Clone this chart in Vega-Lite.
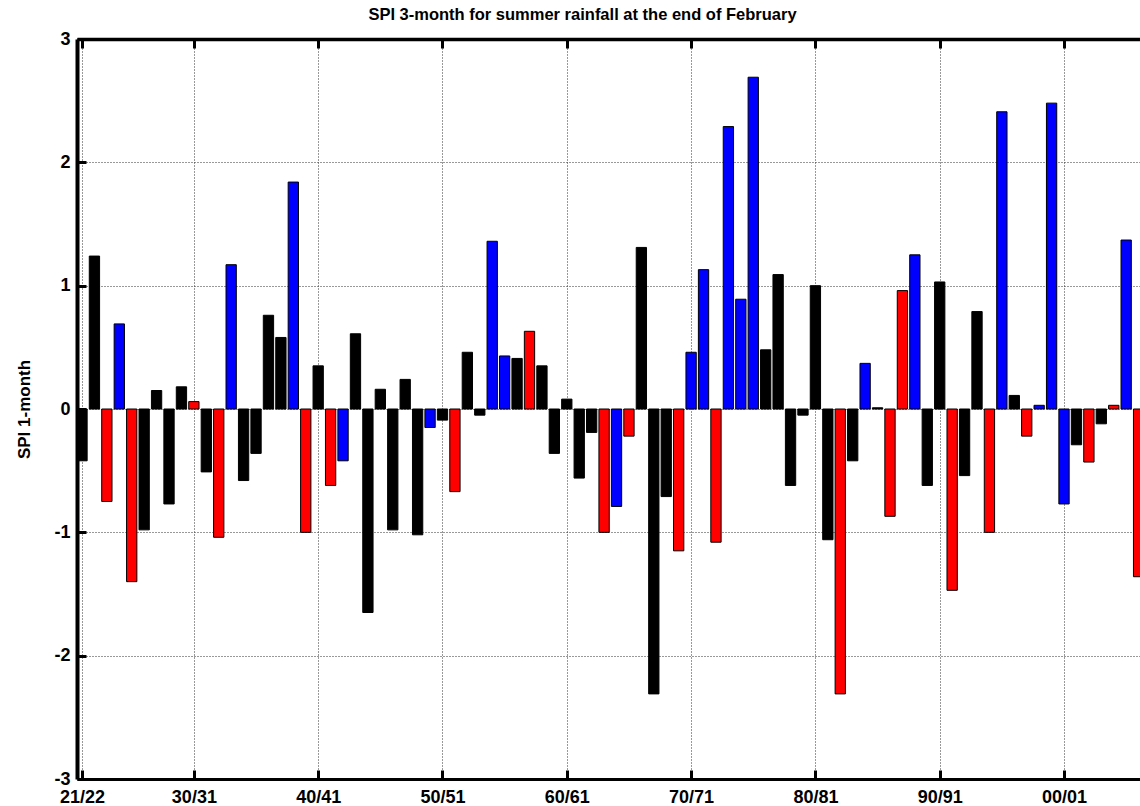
{
  "$schema": "https://vega.github.io/schema/vega-lite/v6.json",
  "width": 1063,
  "height": 740,
  "autosize": {"type": "none"},
  "padding": {"left": 77, "top": 39, "right": 0, "bottom": 27},
  "background": "white",
  "config": {"view": {"stroke": null}, "font": "Liberation Sans"},
  "title": {
    "text": "SPI 3-month for summer rainfall at the end of February",
    "font": "Liberation Sans",
    "fontSize": 16.5,
    "fontWeight": "bold",
    "color": "black",
    "anchor": "middle",
    "dx": -26,
    "offset": 7
  },
  "data": {
    "values": [
      {"year": 1921, "v": -0.42, "c": "k"},
      {"year": 1922, "v": 1.24, "c": "k"},
      {"year": 1923, "v": -0.75, "c": "r"},
      {"year": 1924, "v": 0.69, "c": "b"},
      {"year": 1925, "v": -1.40, "c": "r"},
      {"year": 1926, "v": -0.98, "c": "k"},
      {"year": 1927, "v": 0.15, "c": "k"},
      {"year": 1928, "v": -0.77, "c": "k"},
      {"year": 1929, "v": 0.18, "c": "k"},
      {"year": 1930, "v": 0.06, "c": "r"},
      {"year": 1931, "v": -0.51, "c": "k"},
      {"year": 1932, "v": -1.04, "c": "r"},
      {"year": 1933, "v": 1.17, "c": "b"},
      {"year": 1934, "v": -0.58, "c": "k"},
      {"year": 1935, "v": -0.36, "c": "k"},
      {"year": 1936, "v": 0.76, "c": "k"},
      {"year": 1937, "v": 0.58, "c": "k"},
      {"year": 1938, "v": 1.84, "c": "b"},
      {"year": 1939, "v": -1.00, "c": "r"},
      {"year": 1940, "v": 0.35, "c": "k"},
      {"year": 1941, "v": -0.62, "c": "r"},
      {"year": 1942, "v": -0.42, "c": "b"},
      {"year": 1943, "v": 0.61, "c": "k"},
      {"year": 1944, "v": -1.65, "c": "k"},
      {"year": 1945, "v": 0.16, "c": "k"},
      {"year": 1946, "v": -0.98, "c": "k"},
      {"year": 1947, "v": 0.24, "c": "k"},
      {"year": 1948, "v": -1.02, "c": "k"},
      {"year": 1949, "v": -0.15, "c": "b"},
      {"year": 1950, "v": -0.09, "c": "k"},
      {"year": 1951, "v": -0.67, "c": "r"},
      {"year": 1952, "v": 0.46, "c": "k"},
      {"year": 1953, "v": -0.05, "c": "k"},
      {"year": 1954, "v": 1.36, "c": "b"},
      {"year": 1955, "v": 0.43, "c": "b"},
      {"year": 1956, "v": 0.41, "c": "k"},
      {"year": 1957, "v": 0.63, "c": "r"},
      {"year": 1958, "v": 0.35, "c": "k"},
      {"year": 1959, "v": -0.36, "c": "k"},
      {"year": 1960, "v": 0.08, "c": "k"},
      {"year": 1961, "v": -0.56, "c": "k"},
      {"year": 1962, "v": -0.19, "c": "k"},
      {"year": 1963, "v": -1.00, "c": "r"},
      {"year": 1964, "v": -0.79, "c": "b"},
      {"year": 1965, "v": -0.22, "c": "r"},
      {"year": 1966, "v": 1.31, "c": "k"},
      {"year": 1967, "v": -2.31, "c": "k"},
      {"year": 1968, "v": -0.71, "c": "k"},
      {"year": 1969, "v": -1.15, "c": "r"},
      {"year": 1970, "v": 0.46, "c": "b"},
      {"year": 1971, "v": 1.13, "c": "b"},
      {"year": 1972, "v": -1.08, "c": "r"},
      {"year": 1973, "v": 2.29, "c": "b"},
      {"year": 1974, "v": 0.89, "c": "b"},
      {"year": 1975, "v": 2.69, "c": "b"},
      {"year": 1976, "v": 0.48, "c": "k"},
      {"year": 1977, "v": 1.09, "c": "k"},
      {"year": 1978, "v": -0.62, "c": "k"},
      {"year": 1979, "v": -0.05, "c": "k"},
      {"year": 1980, "v": 1.00, "c": "k"},
      {"year": 1981, "v": -1.06, "c": "k"},
      {"year": 1982, "v": -2.31, "c": "r"},
      {"year": 1983, "v": -0.42, "c": "k"},
      {"year": 1984, "v": 0.37, "c": "b"},
      {"year": 1985, "v": 0.01, "c": "k"},
      {"year": 1986, "v": -0.87, "c": "r"},
      {"year": 1987, "v": 0.96, "c": "r"},
      {"year": 1988, "v": 1.25, "c": "b"},
      {"year": 1989, "v": -0.62, "c": "k"},
      {"year": 1990, "v": 1.03, "c": "k"},
      {"year": 1991, "v": -1.47, "c": "r"},
      {"year": 1992, "v": -0.54, "c": "k"},
      {"year": 1993, "v": 0.79, "c": "k"},
      {"year": 1994, "v": -1.00, "c": "r"},
      {"year": 1995, "v": 2.41, "c": "b"},
      {"year": 1996, "v": 0.11, "c": "k"},
      {"year": 1997, "v": -0.22, "c": "r"},
      {"year": 1998, "v": 0.03, "c": "b"},
      {"year": 1999, "v": 2.48, "c": "b"},
      {"year": 2000, "v": -0.77, "c": "b"},
      {"year": 2001, "v": -0.29, "c": "k"},
      {"year": 2002, "v": -0.43, "c": "r"},
      {"year": 2003, "v": -0.12, "c": "k"},
      {"year": 2004, "v": 0.03, "c": "r"},
      {"year": 2005, "v": 1.37, "c": "b"},
      {"year": 2006, "v": -1.36, "c": "r"}
    ]
  },
  "layer": [
    {
      "mark": {"type": "bar", "width": 10.3, "stroke": "black", "strokeWidth": 1, "clip": true},
      "encoding": {
        "x": {
          "field": "year",
          "type": "quantitative",
          "scale": {"domain": [1921, 2005.71], "nice": false, "zero": false},
          "axis": {
            "orient": "bottom",
            "values": [1921, 1930, 1940, 1950, 1960, 1970, 1980, 1990, 2000],
            "labelExpr": "format(datum.value % 100, '02d') + '/' + format((datum.value + 1) % 100, '02d')",
            "title": null,
            "grid": true,
            "gridColor": "#333333",
            "gridDash": [1, 2],
            "gridWidth": 1,
            "domainColor": "black",
            "domainWidth": 3,
            "tickColor": "black",
            "tickWidth": 3,
            "tickSize": -9,
            "labelFont": "Liberation Sans",
            "labelFontSize": 18,
            "labelFontWeight": "bold",
            "labelColor": "black",
            "labelPadding": 18,
            "labelFlush": false,
            "labelOverlap": false
          }
        },
        "y": {
          "field": "v",
          "type": "quantitative",
          "scale": {"domain": [-3, 3], "nice": false},
          "axis": {
            "orient": "left",
            "values": [-3, -2, -1, 0, 1, 2, 3],
            "labelExpr": "'' + datum.value",
            "title": "SPI 1-month",
            "titleFont": "Liberation Sans",
            "titleFontSize": 17,
            "titleFontWeight": "bold",
            "titleColor": "black",
            "titlePadding": 20,
            "grid": true,
            "gridColor": "#333333",
            "gridDash": [1, 2],
            "gridWidth": 1,
            "domainColor": "black",
            "domainWidth": 4,
            "tickColor": "black",
            "tickWidth": 3,
            "tickSize": -9,
            "labelFont": "Liberation Sans",
            "labelFontSize": 18,
            "labelFontWeight": "bold",
            "labelColor": "black",
            "labelPadding": 16,
            "labelFlush": false,
            "labelOverlap": false
          }
        },
        "color": {
          "field": "c",
          "type": "nominal",
          "scale": {"domain": ["k", "r", "b"], "range": ["#000000", "#ff0000", "#0000ff"]},
          "legend": null
        }
      }
    },
    {
      "mark": {"type": "rule", "strokeOpacity": 0},
      "encoding": {
        "x": {
          "field": "year",
          "type": "quantitative",
          "axis": {
            "orient": "top",
            "values": [1921, 1930, 1940, 1950, 1960, 1970, 1980, 1990, 2000],
            "labels": false,
            "title": null,
            "grid": false,
            "domainColor": "black",
            "domainWidth": 3.5,
            "tickColor": "black",
            "tickWidth": 3,
            "tickSize": -9
          }
        }
      }
    }
  ],
  "resolve": {"axis": {"x": "independent"}}
}
